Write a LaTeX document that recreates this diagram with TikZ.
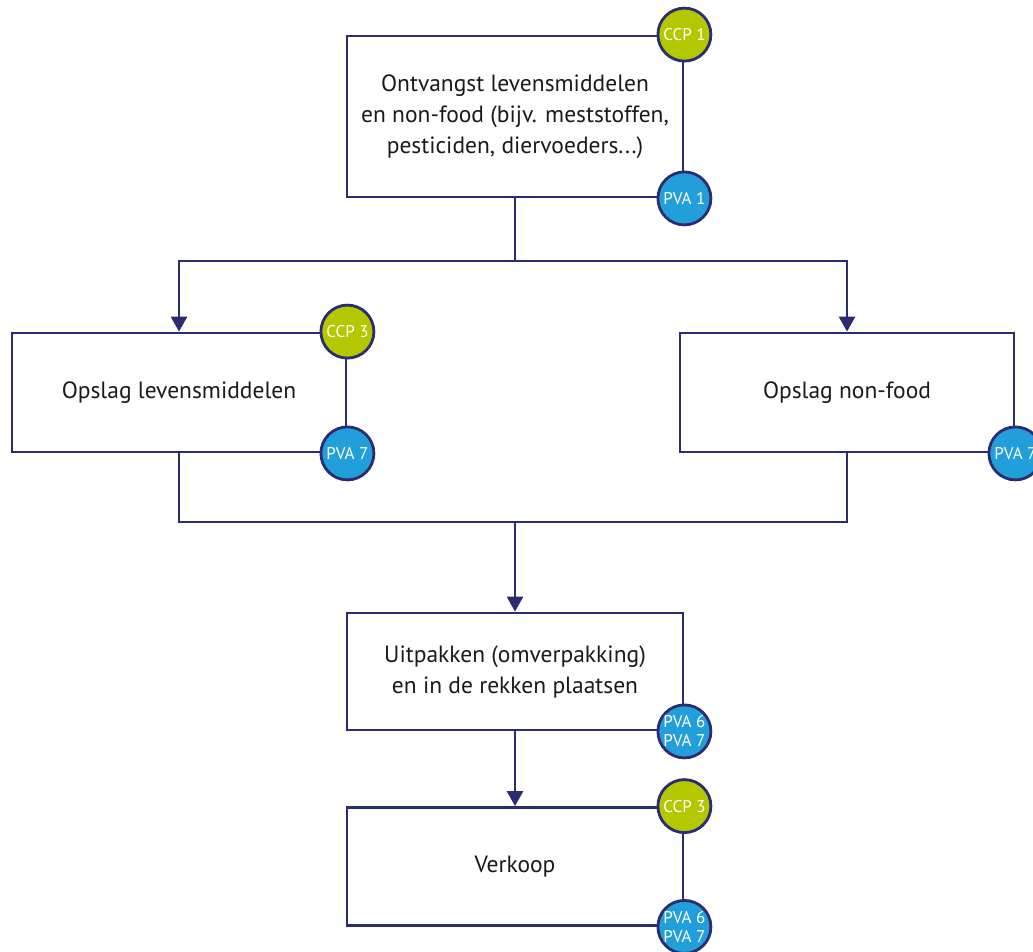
\documentclass[tikz,border=0pt]{standalone}
\usepackage{fontspec}
\setmainfont{PT Sans}
\usetikzlibrary{arrows.meta}
\definecolor{navy}{HTML}{2B2C72}
\definecolor{ccpgreen}{HTML}{B4C800}
\definecolor{pvablue}{HTML}{229FDA}
\definecolor{txt}{HTML}{1A1A1A}
\begin{document}
\begin{tikzpicture}[x=1pt,y=-1pt,
  box/.style={draw=navy, line width=2.8pt, fill=white, align=center, text=txt,
    font=\fontsize{23.5}{31}\selectfont, inner sep=0pt},
  ccp/.style={circle, draw=navy, line width=2.8pt, fill=ccpgreen, text=white,
    minimum size=53pt, inner sep=0pt, align=center, font=\fontsize{17}{19}\selectfont},
  pva/.style={ccp, fill=pvablue},
  conn/.style={draw=navy, line width=2.8pt},
  arr/.style={conn, -{Triangle[width=16pt,length=15pt]}}]
\useasboundingbox (0,0) rectangle (1033,951);
\node[box, minimum width=336pt, minimum height=161pt] (top) at (515,116.5)
  {Ontvangst levensmiddelen\\en non-food (bijv. meststoffen,\\pesticiden, diervoeders...)};
\node[box, minimum width=334pt, minimum height=119pt] (left) at (179,392.5) {Opslag levensmiddelen};
\node[box, minimum width=334pt, minimum height=119pt] (right) at (847,392.5) {Opslag non-food};
\node[box, minimum width=336pt, minimum height=117pt] (mid) at (515,671.5)
  {Uitpakken (omverpakking)\\en in de rekken plaatsen};
\node[box, minimum width=336pt, minimum height=118pt] (bot) at (515,866.5) {Verkoop};

\node[ccp] (c1) at (top.north east) {CCP 1};
\node[pva] (p1) at (top.south east) {PVA 1};
\node[ccp] (c3a) at (left.north east) {CCP 3};
\node[pva] (p7a) at (left.south east) {PVA 7};
\node[pva] (p7b) at (right.south east) {PVA 7};
\node[pva] (p67a) at (mid.south east) {PVA 6\\PVA 7};
\node[ccp] (c3b) at (bot.north east) {CCP 3};
\node[pva] (p67b) at (bot.south east) {PVA 6\\PVA 7};

\coordinate (j1) at (515,261);
\coordinate (j2) at (515,522);
\draw[conn] (top.south) -- (j1);
\draw[arr] (j1) -| (left.north);
\draw[arr] (j1) -| (right.north);
\draw[conn] (left.south) |- (j2);
\draw[conn] (right.south) |- (j2);
\draw[arr] (j2) -- (mid.north);
\draw[arr] (mid.south) -- (bot.north);
\end{tikzpicture}
\end{document}
